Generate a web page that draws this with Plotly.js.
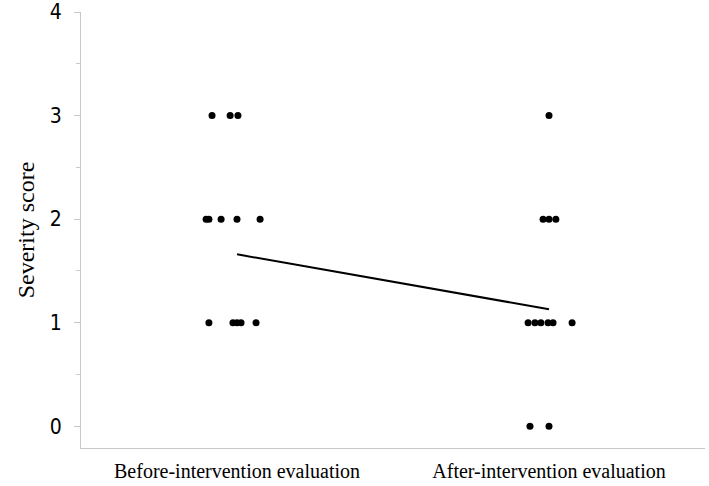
<!DOCTYPE html>
<html>
<head>
<meta charset="utf-8">
<script src="https://cdn.plot.ly/plotly-3.0.1.min.js"></script>
<style>html,body{margin:0;padding:0;background:#fff;}#chart{width:709px;height:486px;}</style>
</head>
<body>
<div id="chart"></div>
<script>
const categories = ["Before-intervention evaluation", "After-intervention evaluation"];
const beforeScores = [3, 3, 3, 2, 2, 2, 2, 2, 1, 1, 1, 1, 1];
const beforeJitter = [-0.080, -0.022, 0.003, -0.099, -0.090, -0.051, 0.000, 0.074, -0.090, -0.013, 0.000, 0.013, 0.061];
const afterScores = [3, 2, 2, 2, 1, 1, 1, 1, 1, 1, 0, 0];
const afterJitter = [0.000, -0.019, 0.000, 0.022, -0.067, -0.045, -0.026, -0.003, 0.013, 0.074, -0.061, 0.000];
const trendValues = [1.66, 1.13];
const yTicks = [0, 1, 2, 3, 4];

const bx = beforeJitter.map(j => 1 + j);
const ax = afterJitter.map(j => 2 + j);

const traces = [
  {x: bx, y: beforeScores, type: 'scatter', mode: 'markers',
   marker: {color: '#000', size: 7}, hoverinfo: 'skip'},
  {x: ax, y: afterScores, type: 'scatter', mode: 'markers',
   marker: {color: '#000', size: 7}, hoverinfo: 'skip'},
  {x: [1, 2], y: trendValues, type: 'scatter', mode: 'lines',
   line: {color: '#000', width: 2}, hoverinfo: 'skip'}
];

const layout = {
  width: 709, height: 486,
  margin: {l: 81, r: 4, t: 12, b: 38},
  paper_bgcolor: '#fff', plot_bgcolor: '#fff',
  showlegend: false,
  xaxis: {
    range: [0.5, 2.5], tickvals: [1, 2], ticktext: categories,
    showgrid: false, zeroline: false, showline: true, linecolor: '#c8c8c8', linewidth: 1,
    ticks: '', tickfont: {family: 'Liberation Serif, Times New Roman, serif', size: 20, color: '#000'},
    ticklabelstandoff: 5, fixedrange: true
  },
  yaxis: {
    range: [-0.21, 4], tickvals: yTicks,
    showgrid: false, zeroline: false, showline: true, linecolor: '#c8c8c8', linewidth: 1,
    ticks: 'outside', ticklen: 6, tickcolor: '#c8c8c8', tickwidth: 1,
    minor: {dtick: 0.5, ticks: 'outside', ticklen: 4, tickcolor: '#c8c8c8'},
    tickfont: {family: 'DejaVu Sans Condensed, Liberation Sans, Arial, sans-serif', size: 21, color: '#000'},
    ticklabelstandoff: 8,
    title: {text: 'Severity score', font: {family: 'Liberation Serif, Times New Roman, serif', size: 24, color: '#000'}, standoff: 8},
    fixedrange: true
  }
};

Plotly.newPlot('chart', traces, layout, {displayModeBar: false, staticPlot: true});
</script>
</body>
</html>
